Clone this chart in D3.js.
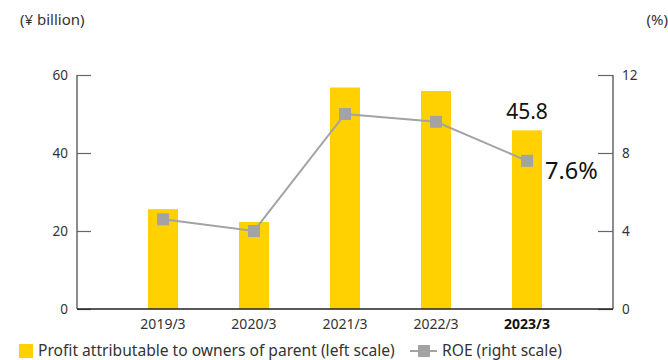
<!DOCTYPE html>
<html>
<head>
<meta charset="utf-8">
<script src="https://cdn.jsdelivr.net/npm/d3@7"></script>
<style>
  body { margin: 0; background: #fff; }
  svg { display: block; font-family: "Noto Sans", "Open Sans", sans-serif; }
</style>
</head>
<body>
<svg id="chart" width="668" height="360"></svg>
<script>
// Fiscal years (March year-end)
const categories = ["2019/3", "2020/3", "2021/3", "2022/3", "2023/3"];
// Profit attributable to owners of parent, ¥ billion (left scale)
const profitValues = [25.6, 22.3, 56.8, 55.9, 45.8];
// ROE, % (right scale)
const roeValues = [4.6, 4.0, 10.0, 9.6, 7.6];
const leftTicks = [0, 20, 40, 60];
const rightTicks = [0, 4, 8, 12];

const svg = d3.select("#chart");
const yellow = "#FFD100";
const gray = "#A3A3A3";
const axisColor = "#666";
const textColor = "#333";

const x0 = 77, x1 = 613, yBase = 309, yTop = 75;

const x = d3.scaleBand().domain(categories).range([x0, x1])
  .paddingInner(0.67).paddingOuter(0.78);
const yL = d3.scaleLinear().domain([0, 60]).range([yBase, yTop]);
const yR = d3.scaleLinear().domain([0, 12]).range([yBase, yTop]);

// Bars
svg.append("g").selectAll("rect").data(categories).join("rect")
  .attr("x", d => x(d))
  .attr("width", x.bandwidth())
  .attr("y", (d, i) => yL(profitValues[i]))
  .attr("height", (d, i) => yBase - yL(profitValues[i]))
  .attr("fill", yellow);

// Left axis
const leftAxis = svg.append("g").attr("transform", `translate(${x0},0)`)
  .call(d3.axisRight(yL).tickValues(leftTicks).tickSize(14).tickFormat(""));
leftAxis.select(".domain").remove();
leftAxis.selectAll(".tick line").attr("stroke", axisColor).attr("stroke-width", 1.2);
svg.append("line").attr("x1", x0).attr("x2", x0).attr("y1", yTop).attr("y2", yBase)
  .attr("stroke", axisColor).attr("stroke-width", 1.5);
svg.append("g").selectAll("text").data(leftTicks).join("text")
  .attr("x", 68).attr("y", d => yL(d)).attr("dy", "0.35em")
  .attr("text-anchor", "end").attr("font-size", 13.5).attr("fill", textColor)
  .text(d => d);

// Right axis
const rightAxis = svg.append("g").attr("transform", `translate(${x1},0)`)
  .call(d3.axisLeft(yR).tickValues(rightTicks).tickSize(15).tickFormat(""));
rightAxis.select(".domain").remove();
rightAxis.selectAll(".tick line").attr("stroke", axisColor).attr("stroke-width", 1.2);
svg.append("line").attr("x1", x1).attr("x2", x1).attr("y1", yTop).attr("y2", yBase)
  .attr("stroke", axisColor).attr("stroke-width", 1.5);
svg.append("g").selectAll("text").data(rightTicks).join("text")
  .attr("x", 622).attr("y", d => yR(d)).attr("dy", "0.35em")
  .attr("text-anchor", "start").attr("font-size", 13.5).attr("fill", textColor)
  .text(d => d);

// Baseline
svg.append("line").attr("x1", x0).attr("x2", x1).attr("y1", yBase).attr("y2", yBase)
  .attr("stroke", "#222").attr("stroke-width", 1.5);

// Category labels
svg.append("g").selectAll("text").data(categories).join("text")
  .attr("x", d => x(d) + x.bandwidth() / 2).attr("y", 324).attr("dy", "0.35em")
  .attr("text-anchor", "middle").attr("font-size", 14)
  .attr("font-weight", (d, i) => i === categories.length - 1 ? "bold" : "normal")
  .attr("fill", (d, i) => i === categories.length - 1 ? "#111" : textColor)
  .text(d => d);

// ROE line
const cx = d => x(d) + x.bandwidth() / 2;
svg.append("path")
  .datum(categories)
  .attr("d", d3.line().x(cx).y((d, i) => yR(roeValues[i])))
  .attr("fill", "none").attr("stroke", gray).attr("stroke-width", 2);
svg.append("g").selectAll("rect").data(categories).join("rect")
  .attr("x", d => cx(d) - 6).attr("y", (d, i) => yR(roeValues[i]) - 6)
  .attr("width", 12).attr("height", 12).attr("fill", gray);

// Latest-year value labels
const last = categories.length - 1;
svg.append("text")
  .attr("x", cx(categories[last])).attr("y", yL(profitValues[last]) - 11.5)
  .attr("text-anchor", "middle").attr("font-size", 21).attr("fill", "#111")
  .text(profitValues[last].toFixed(1));
svg.append("text")
  .attr("x", 545).attr("y", yR(roeValues[last]) + 18.5)
  .attr("text-anchor", "start").attr("font-size", 23.5).attr("fill", "#111")
  .text(roeValues[last].toFixed(1) + "%");

// Unit labels
svg.append("text").attr("x", 20).attr("y", 25)
  .attr("font-size", 15).attr("fill", textColor).text("(¥ billion)");
svg.append("text").attr("x", 668).attr("y", 25).attr("text-anchor", "end")
  .attr("font-size", 15).attr("fill", textColor).text("(%)");

// Legend
const lg = svg.append("g");
lg.append("rect").attr("x", 19).attr("y", 344).attr("width", 14).attr("height", 14).attr("fill", yellow);
lg.append("text").attr("x", 38).attr("y", 351).attr("dy", "0.35em")
  .attr("font-size", 15.6).attr("fill", textColor)
  .text("Profit attributable to owners of parent (left scale)");
lg.append("line").attr("x1", 410).attr("x2", 437).attr("y1", 351).attr("y2", 351)
  .attr("stroke", gray).attr("stroke-width", 2);
lg.append("rect").attr("x", 418).attr("y", 345).attr("width", 12).attr("height", 12).attr("fill", gray);
lg.append("text").attr("x", 442).attr("y", 351).attr("dy", "0.35em")
  .attr("font-size", 15.6).attr("fill", textColor)
  .text("ROE (right scale)");
</script>
</body>
</html>
